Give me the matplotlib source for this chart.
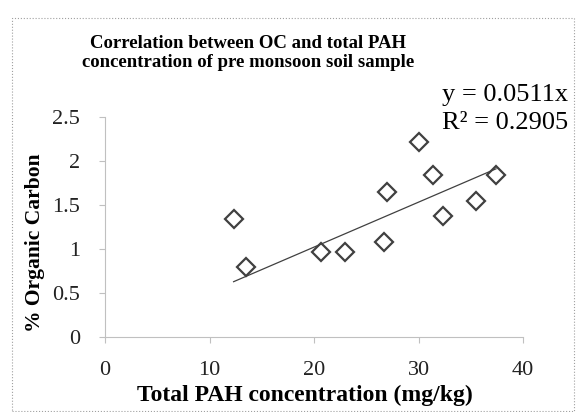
import numpy as np
import matplotlib
matplotlib.use("Agg")
import matplotlib.pyplot as plt
from matplotlib.patches import Rectangle

# Data
pah = [12.3, 13.5, 20.7, 23.0, 26.7, 27.0, 30.0, 31.4, 32.3, 35.5, 37.4]
oc = [1.34, 0.79, 0.97, 0.97, 1.08, 1.65, 2.22, 1.84, 1.37, 1.55, 1.84]
slope = 0.0511
r2 = 0.2905
x_ticks = [0, 10, 20, 30, 40]
y_ticks = [0, 0.5, 1, 1.5, 2, 2.5]
y_tick_labels = ["0", "0.5", "1", "1.5", "2", "2.5"]

plt.rcParams["font.family"] = ["Liberation Serif", "DejaVu Serif"]

fig = plt.figure(figsize=(5.76, 4.12), dpi=100)
ax = fig.add_axes([0.1823, 0.182, 0.726, 0.534])

# chart border
fig.patches.append(Rectangle((0.021, 0.003), 0.976, 0.953, transform=fig.transFigure,
                             fill=False, edgecolor="#a0a0a0", linewidth=0.8, linestyle=":"))

ax.plot(pah, oc, linestyle="none", marker="D", markersize=9,
        markerfacecolor="white", markeredgecolor="#404040", markeredgewidth=1.6)

# linear trend through origin
xt = np.array([min(pah), max(pah)])
ax.plot(xt, slope * xt, color="#404040", linewidth=0.9)

ax.set_xlim(0, 40)
ax.set_ylim(0, 2.5)
ax.set_xticks(x_ticks)
ax.set_yticks(y_ticks)
ax.set_yticklabels(y_tick_labels)

for s in ["top", "right"]:
    ax.spines[s].set_visible(False)
for s in ["left", "bottom"]:
    ax.spines[s].set_color("#c0c0c0")
    ax.spines[s].set_linewidth(0.8)

ax.tick_params(axis="y", direction="out", length=4, color="#c0c0c0",
               labelsize=16, pad=14, labelcolor="#222222")
ax.tick_params(axis="x", direction="out", length=4, color="#c0c0c0",
               labelsize=16, pad=13, labelcolor="#222222")

ax.set_xlabel("Total PAH concentration (mg/kg)", fontsize=17, fontweight="bold")
ax.xaxis.set_label_coords(0.478, -0.218)
ax.set_ylabel("% Organic Carbon", fontsize=15.5, fontweight="bold")
ax.yaxis.set_label_coords(-0.143, 0.427)

fig.text(0.43, 0.871, "Correlation between OC and total PAH\nconcentration of pre monsoon soil sample",
         ha="center", va="center", fontsize=13.5, fontweight="bold", linespacing=1.2)

fig.text(0.768, 0.769, f"y = {slope}x", ha="left", va="center", fontsize=19)
fig.text(0.768, 0.701, f"R² = {r2}", ha="left", va="center", fontsize=19)

fig.savefig("out.png", dpi=100)
